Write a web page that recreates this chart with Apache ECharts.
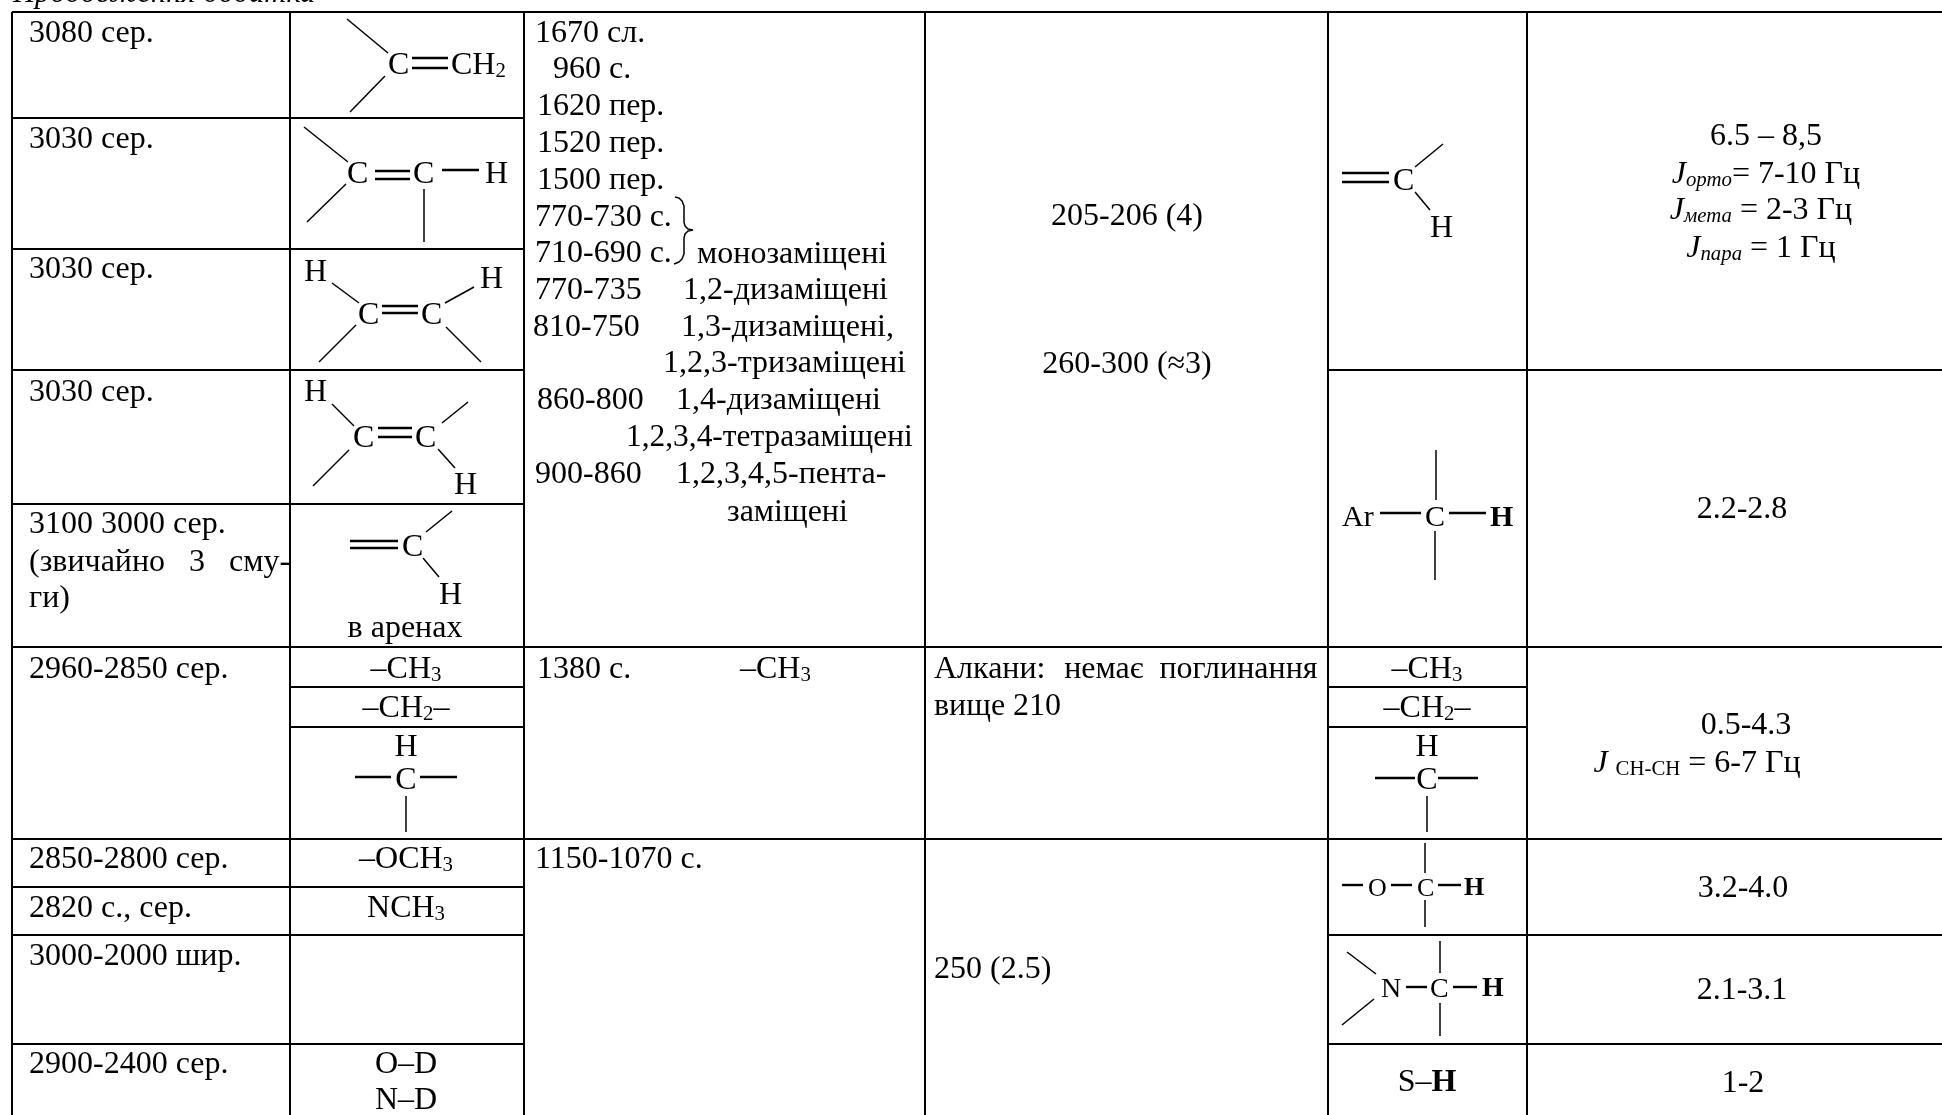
<!DOCTYPE html>
<html>
<head>
<meta charset="utf-8">
<title>Продовження додатка</title>
<script src="https://cdn.jsdelivr.net/npm/echarts@6/dist/echarts.min.js"></script>
<style>
html, body { margin: 0; padding: 0; background: #fff; }
#main { width: 1942px; height: 1115px; }
</style>
</head>
<body>
<div id="main"></div>
<script>
// тексти таблиці по колонках ({s|..} - нижній індекс, {b|..} - жирний, {i|..} - курсив)
var caption = ['{i|Продовження додатка}'];
var irBands = ['3080 сер.', '3030 сер.', '3030 сер.', '3030 сер.', '3100 3000 сер.', '(звичайно\u00a0\u00a0\u00a03\u00a0\u00a0\u00a0сму-', 'ги)',
	'2960-2850 сер.', '2850-2800 сер.', '2820 с., сер.', '3000-2000 шир.', '2900-2400 сер.'];
var groupsCol2 = ['в аренах', '–CH{s|3}', '–CH{s|2}–', 'H', 'C', '–OCH{s|3}', 'NCH{s|3}', 'O–D', 'N–D'];
var fingerprintBands = ['1670 сл.', '960 с.', '1620 пер.', '1520 пер.', '1500 пер.', '770-730 с.', '710-690 с.', '770-735', '810-750',
	'860-800', '900-860', '1380 с.', '1150-1070 с.'];
var substitution = ['монозаміщені', '1,2-дизаміщені', '1,3-дизаміщені,', '1,2,3-тризаміщені', '1,4-дизаміщені',
	'1,2,3,4,5-пента-', 'заміщені', '–CH{s|3}'];
var substitutionWide = ['1,2,3,4-тетразаміщені'];
var uvCentered = ['205-206 (4)', '260-300 (≈3)'];
var uvLeft = ['Алкани:\u00a0\u00a0\u200aнемає\u00a0\u00a0поглинання', 'вище 210', '250 (2.5)'];
var groupsCol5 = ['–CH{s|3}', '–CH{s|2}–', 'H', 'C', 'S–{b|H}'];
var nmrShifts = ['6.5 – 8,5', '{i|J}{is|орто}= 7-10 Гц', '{i|J}{is|мета} = 2-3 Гц', '{i|J}{is|пара} = 1 Гц', '2.2-2.8', '0.5-4.3',
	'{i|J} {s|CH-CH} = 6-7 Гц', '3.2-4.0', '2.1-3.1', '1-2'];

// атоми у структурних формулах
var atomsCol2 = ['C', 'CH{s|2}', 'C', 'C', 'H', 'H', 'H', 'C', 'C', 'H', 'C', 'C', 'H', 'C', 'H'];
var atomsVinyl = ['C', 'H'];
var atomsAr = ['Ar', 'C', '{b|H}'];
var atomsOch = ['O', 'C', '{b|H}'];
var atomsNch = ['N', 'C', '{b|H}'];

// розмітка: x та базова лінія кожного тексту
var irX = [29, 29, 29, 29, 29, 29, 29, 29, 29, 29, 29, 29];
var irY = [43, 149, 279, 402, 534, 572, 608, 679, 869, 918, 966, 1074];
var groups2X = [405, 406, 406, 406, 406, 406, 406, 406, 406];
var groups2Y = [638, 679, 718, 757, 790, 869, 918, 1074, 1110];
var fpX = [535, 553, 537, 537, 537, 535, 535, 535, 533, 537, 535, 537, 535];
var fpY = [43, 79, 116, 153, 190, 227, 263, 300, 337, 410, 484, 679, 869];
var subX = [697, 683, 681, 663, 676, 676, 727, 740];
var subY = [264, 300, 337, 373, 410, 484, 522, 679];
var uvCX = [1127, 1127];
var uvCY = [226, 374];
var uvLX = [934, 934, 934];
var uvLY = [679, 716, 979];
var groups5X = [1427, 1427, 1427, 1427, 1427];
var groups5Y = [679, 718, 757, 790, 1092];
var nmrX = [1766, 1766, 1761, 1761, 1742, 1746, 1697, 1743, 1742, 1743];
var nmrY = [146, 184, 220, 258, 519, 735, 773, 898, 1000, 1093];
var atoms2X = [388, 451, 347, 413, 485, 304, 480, 358, 421, 304, 353, 415, 454, 402, 439];
var atoms2Y = [75, 75, 184, 184, 184, 282, 289, 325, 325, 402, 448, 448, 495, 557, 605];
var vinylX = [1393, 1430];
var vinylY = [191, 238];
var arX = [1342, 1425, 1490];
var arY = [527, 527, 527];
var ochX = [1368, 1417, 1464];
var ochY = [896, 896, 896];
var nchX = [1381, 1430, 1482];
var nchY = [997, 997, 997];

// лінії таблиці: x1, y1, x2, y2
var tableRules = [
	[12, 12, 1942, 12], [12, 647, 1942, 647], [12, 839, 1942, 839],
	[12, 118, 524, 118], [12, 249, 524, 249], [12, 370, 524, 370], [12, 504, 524, 504],
	[1328, 370, 1942, 370],
	[290, 687, 524, 687], [290, 727, 524, 727], [1328, 687, 1527, 687], [1328, 727, 1527, 727],
	[12, 887, 524, 887], [12, 935, 524, 935], [12, 1044, 524, 1044],
	[1328, 935, 1942, 935], [1328, 1044, 1942, 1044],
	[12, 12, 12, 1115], [290, 12, 290, 1115], [524, 12, 524, 1115], [925, 12, 925, 1115], [1328, 12, 1328, 1115], [1527, 12, 1527, 1115]
];

// зв'язки у формулах
var bonds = [
	[347, 19, 388, 53], [385, 76, 350, 112], [412, 58, 448, 58], [412, 68, 448, 68],
	[304, 127, 348, 162], [346, 184, 307, 222], [375, 171, 410, 171], [375, 179, 410, 179], [442, 170, 479, 170], [424, 189, 424, 242],
	[332, 283, 359, 303], [445, 303, 474, 287], [382, 306, 418, 306], [382, 313, 418, 313], [356, 325, 319, 362], [446, 327, 481, 362],
	[332, 404, 354, 426], [442, 423, 468, 402], [378, 428, 412, 428], [378, 437, 412, 437], [349, 450, 313, 486], [438, 449, 455, 468],
	[452, 511, 426, 532], [350, 541, 398, 541], [350, 548, 398, 548], [423, 558, 439, 577],
	[355, 777, 391, 777], [420, 777, 457, 777], [406, 796, 406, 832],
	[1443, 144, 1415, 167], [1342, 173, 1389, 173], [1342, 182, 1389, 182], [1415, 192, 1430, 210],
	[1380, 513, 1421, 513], [1449, 513, 1486, 513], [1436, 450, 1436, 500], [1435, 531, 1435, 580],
	[1375, 778, 1415, 778], [1438, 778, 1478, 778], [1427, 796, 1427, 832],
	[1425, 843, 1425, 873], [1425, 900, 1425, 927], [1342, 885, 1363, 885], [1391, 885, 1412, 885], [1438, 885, 1461, 885],
	[1347, 952, 1376, 974], [1374, 999, 1342, 1025], [1406, 987, 1427, 987], [1453, 987, 1477, 987], [1440, 941, 1440, 973], [1440, 1003, 1440, 1036]
];

// фігурна дужка біля 770-730 / 710-690
var bracePoints = [[675, 197], [679, 198], [682, 201], [684, 206], [684, 222], [685, 226], [688, 229], [693, 230], [688, 231], [685, 234],
	[684, 238], [684, 254], [682, 259], [679, 262], [674, 264]];

var FONT = '"Liberation Serif", "Times New Roman", serif';
var BASE_SIZE = 32;

var labels = [];
function addLabels(texts, xs, ys, align, size) {
	for (var i = 0; i < texts.length; i++) {
		labels.push({ text: texts[i], x: xs[i], y: ys[i], align: align, size: size || BASE_SIZE });
	}
}
addLabels(caption, [13], [3], 'left', 30.6);
addLabels(irBands, irX, irY, 'left');
addLabels(groupsCol2, groups2X, groups2Y, 'center');
addLabels(fingerprintBands, fpX, fpY, 'left');
addLabels(substitution, subX, subY, 'left');
addLabels(substitutionWide, [626], [447], 'left', 31.4);
addLabels(uvCentered, uvCX, uvCY, 'center');
addLabels(uvLeft, uvLX, uvLY, 'left');
addLabels(groupsCol5, groups5X, groups5Y, 'center');
addLabels(nmrShifts, nmrX, nmrY, 'center');
addLabels(atomsCol2, atoms2X, atoms2Y, 'left');
addLabels(atomsVinyl, vinylX, vinylY, 'left');
addLabels(atomsAr, arX, arY, 'left', 30);
addLabels(atomsOch, ochX, ochY, 'left', 26);
addLabels(atomsNch, nchX, nchY, 'left', 28);

function richFor(size) {
	return {
		s: { fontFamily: FONT, fontSize: size * 0.65, lineHeight: 10, verticalAlign: 'bottom', fill: '#000' },
		b: { fontFamily: FONT, fontSize: size, fontWeight: 'bold', fill: '#000' },
		i: { fontFamily: FONT, fontSize: size, fontStyle: 'italic', fill: '#000' },
		is: { fontFamily: FONT, fontSize: size * 0.65, fontStyle: 'italic', lineHeight: 10, verticalAlign: 'bottom', fill: '#000' }
	};
}

var lineSeries = function(name, rows, width, flatWidth) {
	return {
		name: name,
		type: 'custom',
		silent: true,
		clip: false,
		data: rows,
		encode: { x: [0, 2], y: [1, 3] },
		renderItem: function(params, api) {
			var a = api.coord([api.value(0), api.value(1)]);
			var b = api.coord([api.value(2), api.value(3)]);
			return {
				type: 'line',
				shape: { x1: a[0], y1: a[1], x2: b[0], y2: b[1] },
				style: { stroke: '#000', lineWidth: a[1] == b[1] ? flatWidth : width, lineCap: 'butt' }
			};
		}
	};
};

var myChart = echarts.init(document.getElementById('main'), null, { renderer: 'canvas' });
var option = {
	animation: false,
	backgroundColor: '#fff',
	grid: { left: 0, right: 0, top: 0, bottom: 0 },
	xAxis: { type: 'value', min: 0, max: 1942, show: false },
	yAxis: { type: 'value', min: 0, max: 1115, inverse: true, show: false },
	series: [
		lineSeries('rules', tableRules, 2, 2),
		lineSeries('bonds', bonds, 1.5, 2.4),
		{
			name: 'brace',
			type: 'line',
			data: bracePoints,
			symbol: 'none',
			silent: true,
			lineStyle: { color: '#000', width: 1.5 }
		},
		{
			name: 'labels',
			type: 'custom',
			silent: true,
			clip: false,
			data: labels.map(function(l) { return [l.x, l.y]; }),
			encode: { x: 0, y: 1 },
			renderItem: function(params, api) {
				var l = labels[params.dataIndex];
				// базова лінія -> середина рядка
				var p = api.coord([api.value(0), api.value(1) - l.size * 0.28]);
				return {
					type: 'text',
					style: {
						x: p[0],
						y: p[1],
						text: l.text,
						fontFamily: FONT,
						fontSize: l.size,
						fill: '#000',
						align: l.align,
						verticalAlign: 'middle',
						rich: richFor(l.size)
					}
				};
			}
		}
	]
};
myChart.setOption(option);
</script>
</body>
</html>
